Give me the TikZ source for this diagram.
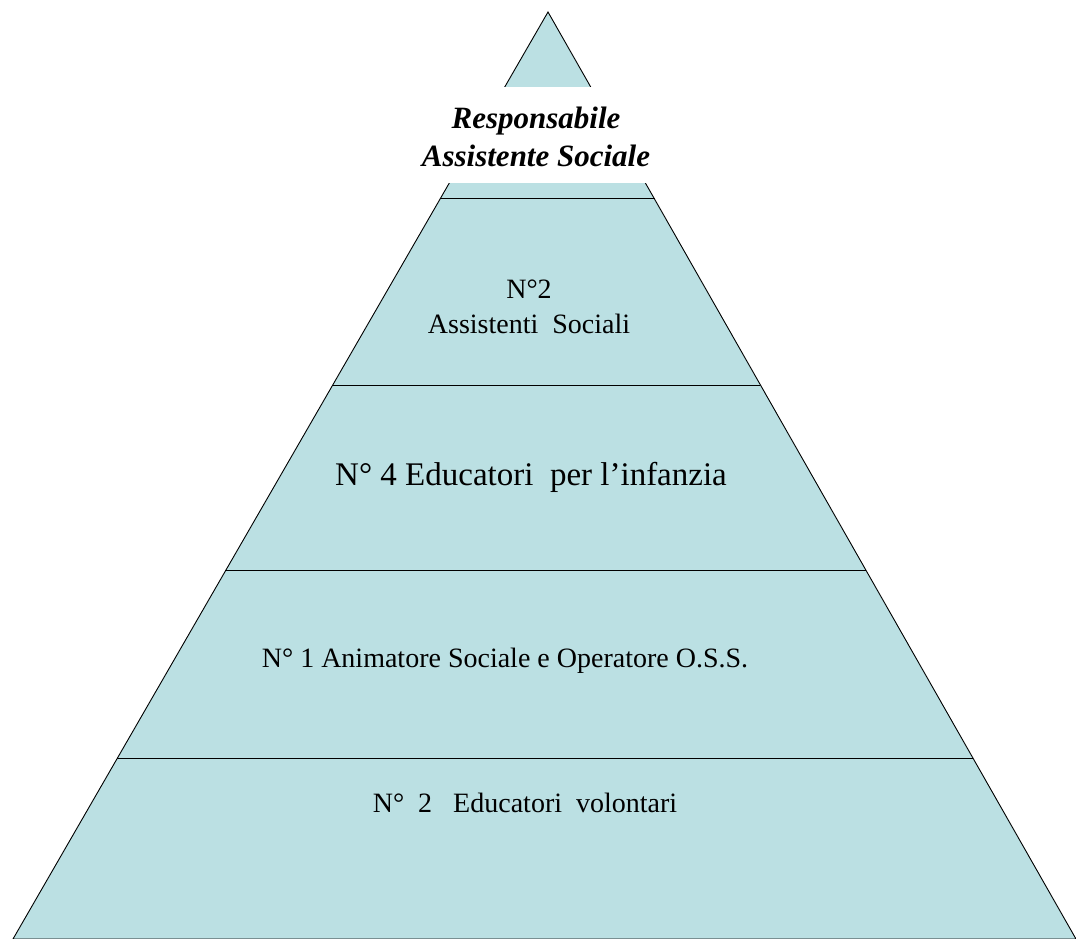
\documentclass[tikz,border=0pt]{standalone}
\usepackage{fontspec}
\setmainfont{Liberation Serif}
\usetikzlibrary{calc}
\definecolor{pyrfill}{RGB}{187,224,227}
\tikzset{
  divider/.style={draw=black,line width=1pt},
  lbl/.style={anchor=base,inner sep=0pt,align=center,text=black},
}
\begin{document}
\begin{tikzpicture}[x=1pt,y=-1pt]
\useasboundingbox (0,0) rectangle (1076,939);
\coordinate (apex) at (548,12);
\coordinate (bl) at (13,939);
\coordinate (br) at (1076,939);
\filldraw[fill=pyrfill,draw=black,line width=0.9pt] (apex) -- (bl) -- (br) -- cycle;
% white label box over the pyramid
\fill[white] (400,87.5) rectangle (700,183);
% dividers
\foreach \t/\n in {0.2017/a,0.4024/b,0.6030/c,0.8048/d}{
  \coordinate (L\n) at ($(apex)!\t!(bl)$);
  \coordinate (R\n) at ($(apex)!\t!(br)$);
  \draw[divider] (L\n) -- (R\n);
}
\node[lbl,font=\fontsize{31}{39}\selectfont\bfseries\itshape] (top) at (536,167) {Responsabile\\Assistente Sociale};
\node[lbl,font=\fontsize{28}{35}\selectfont] (t1) at (529,333) {N°2\\Assistenti\ \ Sociali};
\node[lbl,font=\fontsize{33}{40}\selectfont] (t2) at (531,485) {N° 4 Educatori\ \ per l’infanzia};
\node[lbl,font=\fontsize{28}{35}\selectfont] (t3) at (505,667) {N° 1 Animatore Sociale e Operatore O.S.S.};
\node[lbl,font=\fontsize{28}{35}\selectfont] (t4) at (525,812) {N°\ \ 2\ \ \ Educatori\ \ volontari};
\end{tikzpicture}
\end{document}
